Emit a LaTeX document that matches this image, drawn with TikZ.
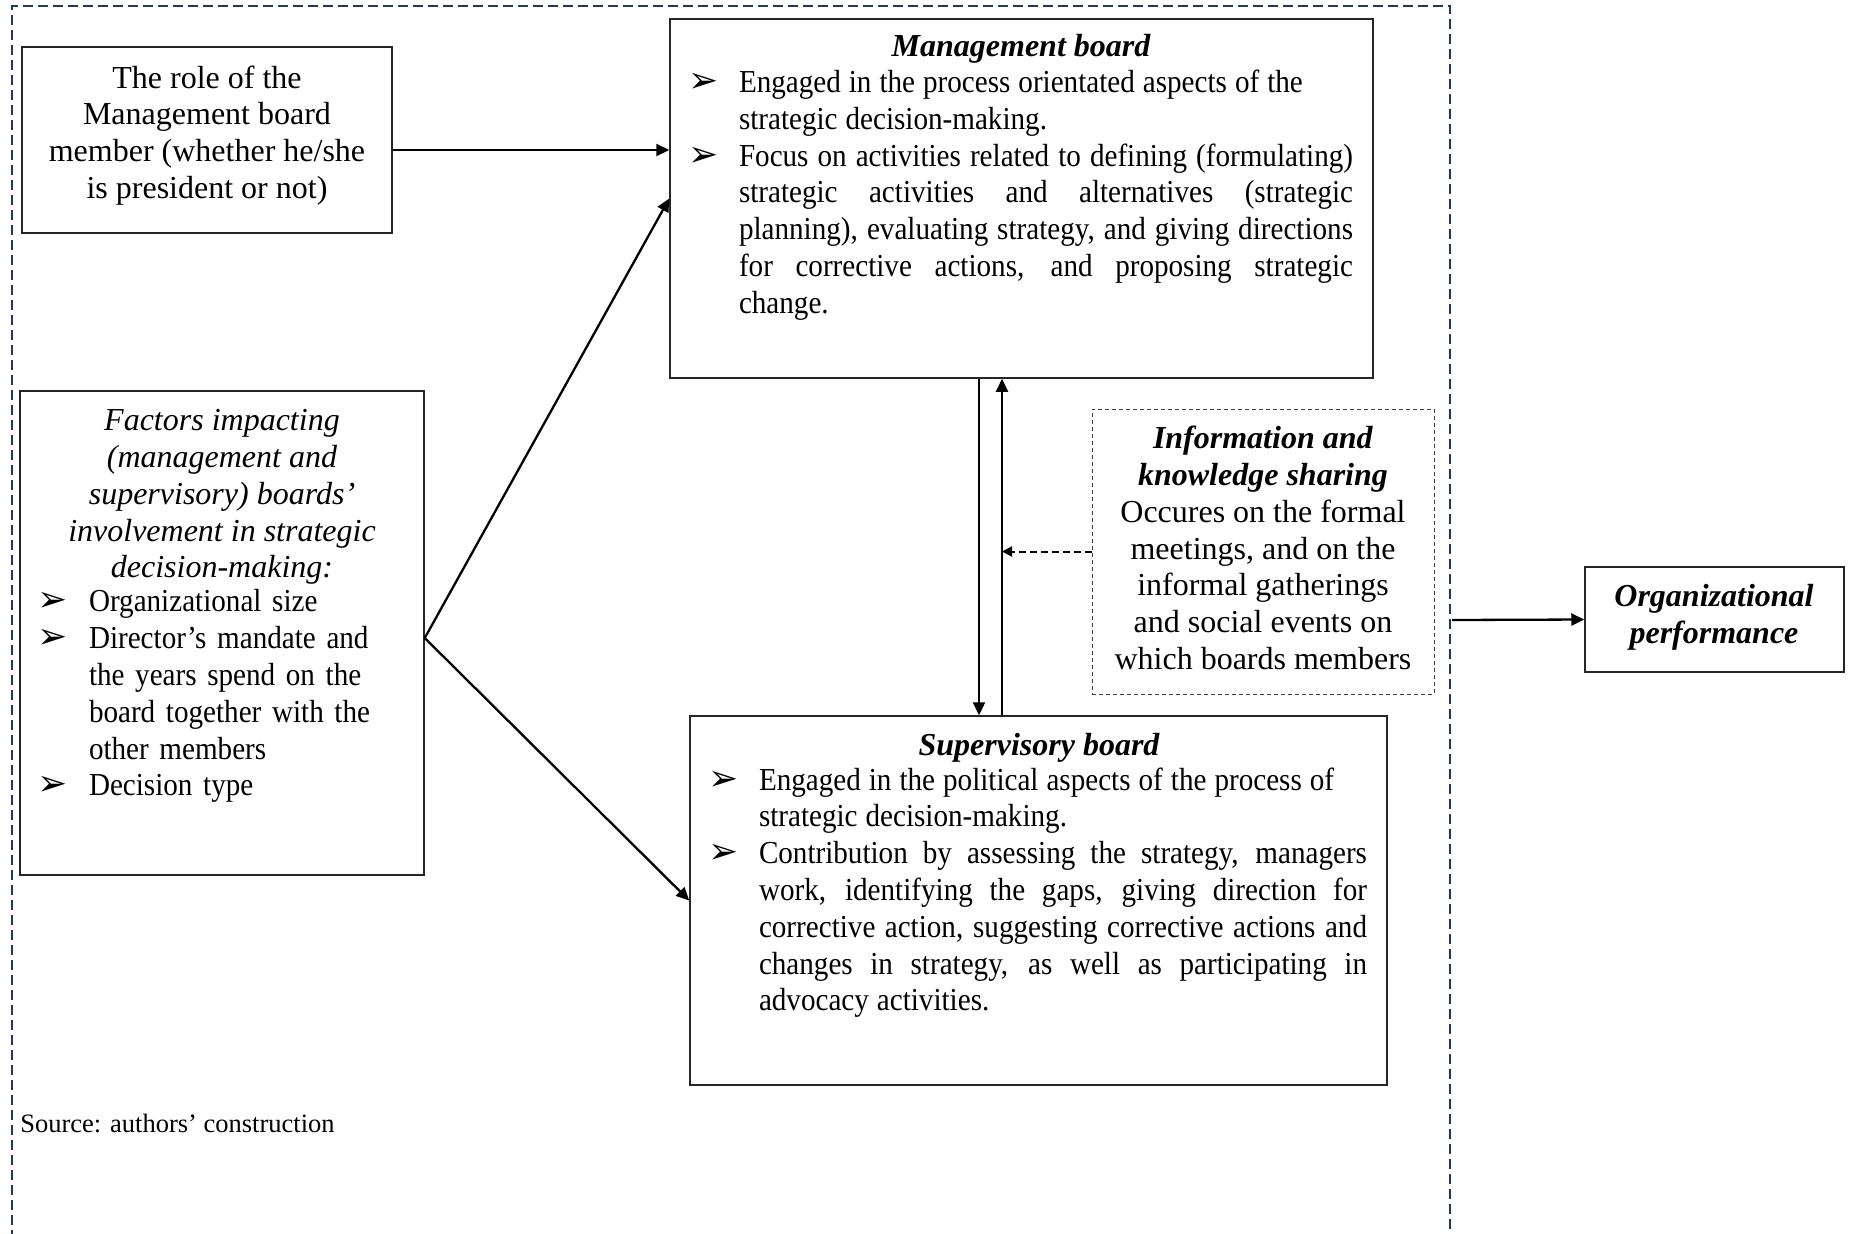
\documentclass[tikz,border=0pt]{standalone}
\usepackage{fontspec}
\setmainfont{Liberation Serif}
\newfontfamily\cond{Liberation Serif}[FakeStretch=0.91]
\newfontfamily\bulfont{DejaVu Sans}
\usetikzlibrary{arrows.meta}
\definecolor{navy}{HTML}{1F3864}
\newcommand{\bset}{\cond\fontsize{16}{18.4}\selectfont\spaceskip=0.25em plus 0.6em minus 0.1em\relax\hyphenpenalty=10000\relax\exhyphenpenalty=10000\relax}
\newcommand{\bitem}[2]{\par\noindent\hangindent=#1\hangafter=1\makebox[#1][l]{{\bulfont\fontsize{18}{18}\selectfont ➢}}#2\par}
\begin{document}
\begin{tikzpicture}[x=0.5pt,y=-0.5pt,
  box/.style={draw=black!85, line width=0.75pt, inner sep=0pt},
  txt/.style={inner sep=0pt, font=\fontsize{16}{18.4}\selectfont},
  btxt/.style={inner sep=0pt, font=\bset},
  arr/.style={-{Triangle[length=6.5pt,width=6pt]}, line width=1.15pt},
  darr/.style={-{Triangle[length=5pt,width=5pt]}, line width=1pt, dash pattern=on 3.5pt off 2pt},
]
\useasboundingbox (0,0) rectangle (1853,1233);
\draw[navy, line width=1pt, dash pattern=on 5pt off 2.5pt] (12,1240) -- (12,6) -- (1450,6) -- (1450,1240);

% boxes
\node[box, minimum width=185pt, minimum height=93pt] (role) at (207,140) {};
\node[box, minimum width=351.5pt, minimum height=179.5pt] (mgmt) at (1021.5,198.5) {};
\node[box, minimum width=202pt, minimum height=242pt] (factors) at (222,633) {};
\node[box, minimum width=348.5pt, minimum height=184.5pt] (sup) at (1038.5,900.5) {};
\node[draw=black!75, line width=0.5pt, dash pattern=on 2pt off 1.5pt, inner sep=0pt, minimum width=171pt, minimum height=142.5pt] (info) at (1263,551.5) {};
\node[box, minimum width=129.5pt, minimum height=52.5pt] (org) at (1714.5,619.5) {};

% texts
\node[txt, align=center] (roleT) at (207,135.5) {The role of the\\Management board\\member (whether he/she\\is president or not)};
\node[txt, font=\fontsize{16}{18.4}\selectfont\bfseries\itshape] (mgmtH) at (1021,48.5) {Management board};
\node[btxt, text width=332.5pt, align=justify] (mgmtB) at (1020.5,188) {%
\bitem{25.5pt}{Engaged in the process orientated aspects of the\newline strategic decision-making.}%
\bitem{25.5pt}{Focus on activities related to defining (formulating)\linebreak strategic activities and alternatives (strategic\linebreak planning), evaluating strategy, and giving directions\linebreak for corrective actions, and proposing strategic\linebreak change.}};
\node[txt, align=center, font=\fontsize{16}{18.4}\selectfont\itshape] (factH) at (222,497) {Factors impacting\\(management and\\supervisory) boards’\\involvement in strategic\\decision-making:};
\node[btxt, text width=181pt, align=left] (factB) at (219,689) {%
\bitem{25.5pt}{Organizational size}%
\bitem{25.5pt}{Director’s mandate and\newline the years spend on the\newline board together with the\newline other members}%
\bitem{25.5pt}{Decision type}};
\node[txt, align=center] (infoT) at (1263,548) {\textbf{\textit{Information and}}\\\textbf{\textit{knowledge sharing}}\\Occures on the formal\\meetings, and on the\\informal gatherings\\and social events on\\which boards members};
\node[txt, font=\fontsize{16}{18.4}\selectfont\bfseries\itshape] (supH) at (1039,748) {Supervisory board};
\node[btxt, text width=329.5pt, align=justify] (supB) at (1037.5,885.5) {%
\bitem{25.5pt}{Engaged in the political aspects of the process of\newline strategic decision-making.}%
\bitem{25.5pt}{Contribution by assessing the strategy, managers\linebreak work, identifying the gaps, giving direction for\linebreak corrective action, suggesting corrective actions and\linebreak changes in strategy, as well as participating in\linebreak advocacy activities.}};
\node[txt, align=center, font=\fontsize{16}{18.4}\selectfont\bfseries\itshape] (orgT) at (1714,617.5) {Organizational\\performance};
\node[inner sep=0pt, anchor=west, font=\fontsize{13.25}{15}\selectfont] (src) at (20,1123) {Source: authors’ construction};

% connectors
\coordinate (dn) at (979,0);
\coordinate (up) at (1002,0);
\coordinate (frameR) at (1452,620);
\draw[arr] ([yshift=-5pt]role.east) -- ([yshift=-5pt]role.east -| mgmt.west);
\draw[arr] ([yshift=-2.5pt]factors.east) -- (mgmt.west);
\draw[arr] ([yshift=-2.5pt]factors.east) -- (sup.west);
\draw[arr] (dn |- mgmt.south) -- (dn |- sup.north);
\draw[arr] (up |- sup.north) -- (up |- mgmt.south);
\draw[darr] (info.west) -- (info.west -| up);
\draw[arr] (frameR) -- (org.west);
\end{tikzpicture}
\end{document}
